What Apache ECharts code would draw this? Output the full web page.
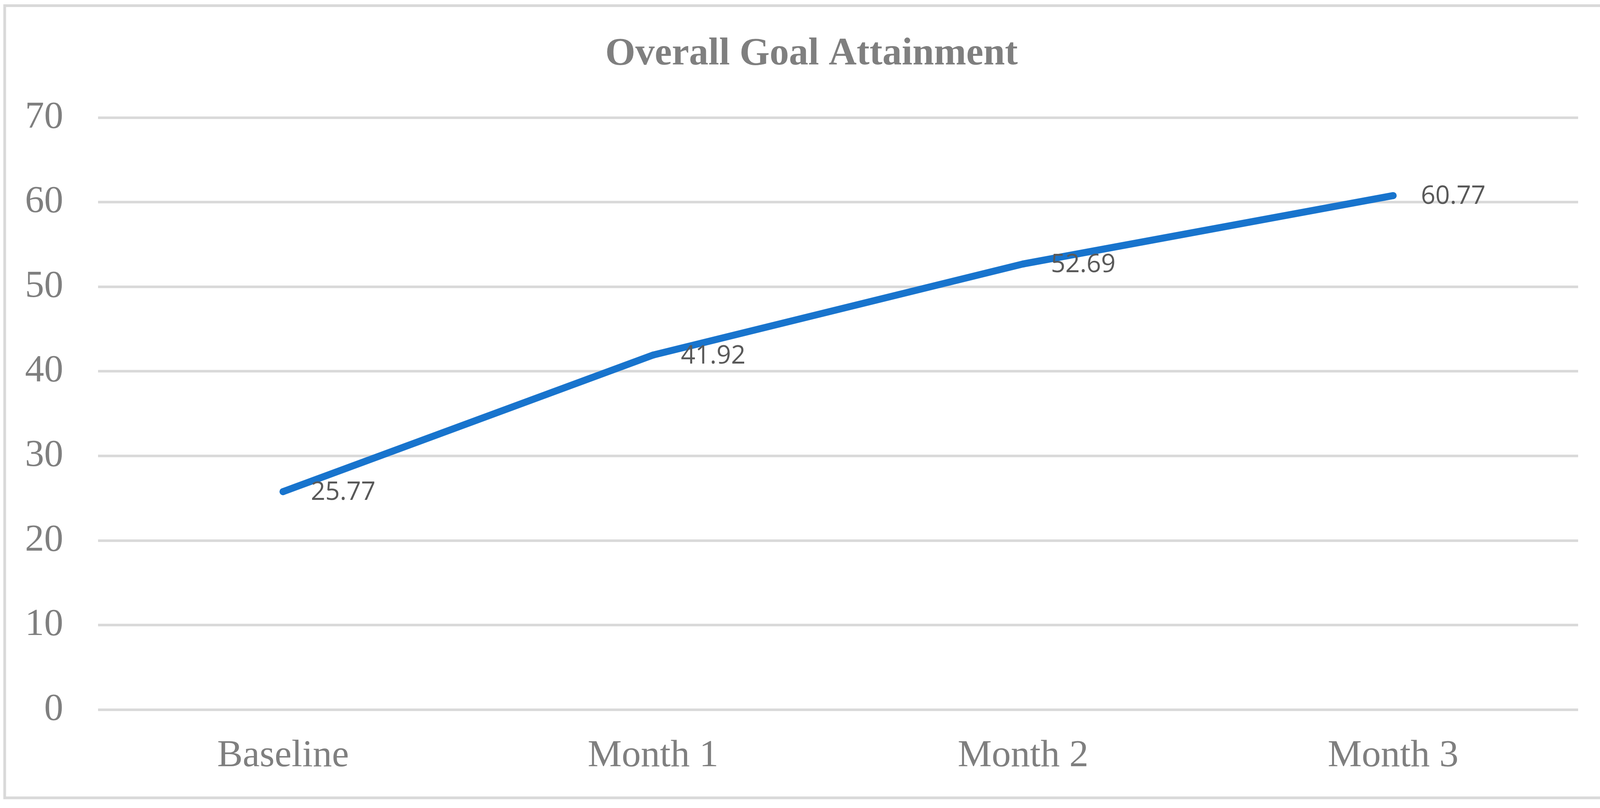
<!DOCTYPE html>
<html>
<head>
<meta charset="utf-8">
<script src="https://cdn.jsdelivr.net/npm/echarts@6/dist/echarts.min.js"></script>
<style>
html,body{margin:0;padding:0;background:#fff;}
#chart{width:4155px;height:2069px;}
</style>
</head>
<body>
<div id="chart"></div>
<script>
const chartTitle = 'Overall Goal Attainment';
const categories = ['Baseline', 'Month 1', 'Month 2', 'Month 3'];
const goalValues = [25.77, 41.92, 52.69, 60.77];
const yTicks = { min: 0, max: 70, interval: 10 };

const chart = echarts.init(document.getElementById('chart'), null, { renderer: 'canvas' });
chart.setOption({
  backgroundColor: '#ffffff',
  animation: false,
  title: {
    text: chartTitle,
    left: 'center',
    top: 85,
    textStyle: {
      fontFamily: '"Liberation Serif", "Times New Roman", serif',
      fontWeight: 'bold',
      fontSize: 99,
      color: '#7f7f7f'
    }
  },
  graphic: [{
    type: 'rect',
    shape: { x: 12, y: 14.5, width: 4120, height: 2028.5 },
    style: { fill: 'none', stroke: '#d9d9d9', lineWidth: 7 },
    silent: true,
    z: -1
  }],
  grid: { left: 251, right: 115, top: 301, bottom: 252, containLabel: false },
  xAxis: {
    type: 'category',
    data: categories,
    boundaryGap: true,
    axisLine: { show: false },
    axisTick: { show: false },
    axisLabel: {
      margin: 70,
      fontFamily: '"Liberation Serif", "Times New Roman", serif',
      fontSize: 98,
      color: '#7f7f7f'
    }
  },
  yAxis: {
    type: 'value',
    min: yTicks.min,
    max: yTicks.max,
    interval: yTicks.interval,
    axisLine: { show: false },
    axisTick: { show: false },
    splitLine: { lineStyle: { color: '#d9d9d9', width: 6.5 } },
    axisLabel: {
      margin: 89,
      fontFamily: '"Liberation Serif", "Times New Roman", serif',
      fontSize: 98,
      color: '#7f7f7f'
    }
  },
  series: [{
    type: 'line',
    data: goalValues,
    symbol: 'circle',
    symbolSize: 18,
    showSymbol: true,
    itemStyle: { color: '#1874cd', borderWidth: 0 },
    lineStyle: { color: '#1874cd', width: 18, cap: 'round', join: 'round' },
    label: {
      show: true,
      position: 'right',
      distance: 62,
      fontFamily: '"Open Sans", sans-serif',
      fontSize: 65,
      color: '#595959',
      offset: [0, 3]
    }
  }]
});
</script>
</body>
</html>
